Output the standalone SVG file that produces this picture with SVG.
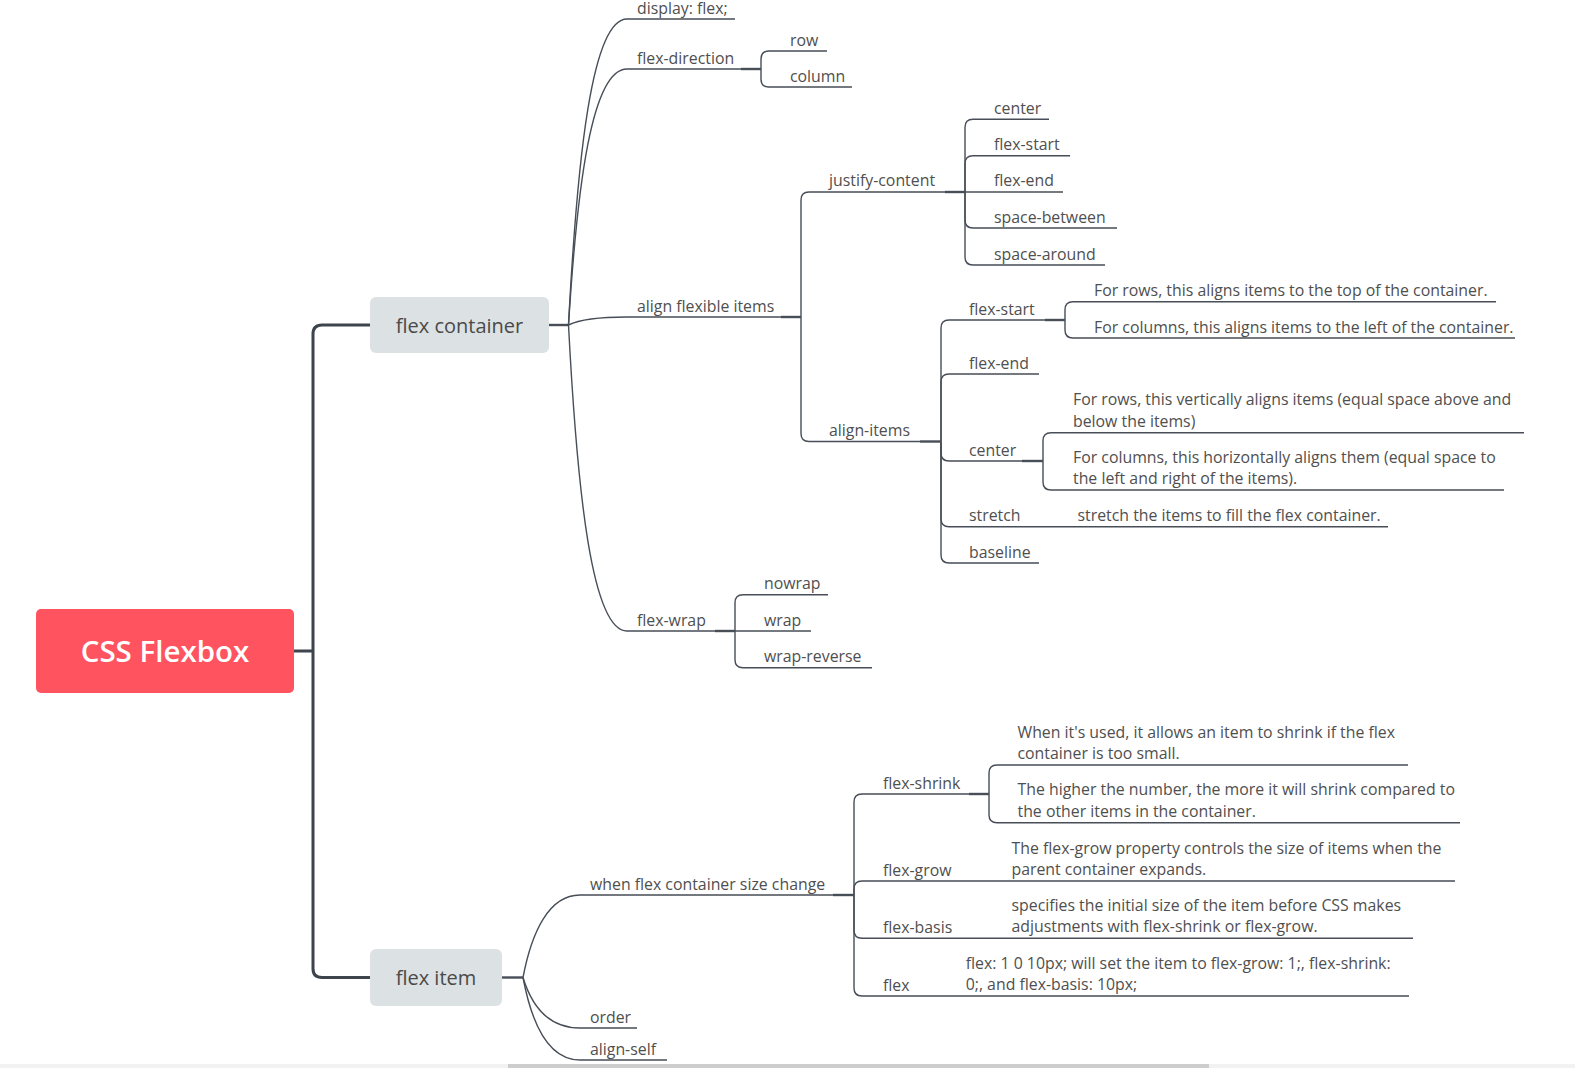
<svg xmlns="http://www.w3.org/2000/svg" width="1575" height="1068" viewBox="0 0 1575 1068">
  <style>
    .lbl { font-family: "Open Sans", "Liberation Sans", sans-serif; font-size: 15.85px; fill: #4f4f4f; }
    .topic { font-family: "Open Sans", "Liberation Sans", sans-serif; font-size: 20px; fill: #4a4a4a; text-anchor: middle; }
    .root-t { font-family: "Open Sans", "Liberation Sans", sans-serif; font-size: 29.5px; font-weight: 600; fill: #ffffff; text-anchor: middle; }
    .ln { fill: none; stroke: #474e57; stroke-width: 1.4; }
    .lk { fill: none; stroke: #474e57; stroke-width: 2.4; }
    .trunk { fill: none; stroke: #3d444c; stroke-width: 3; }
  </style>
  <rect width="1575" height="1068" fill="#ffffff"/>

  <!-- connectors -->
  <g id="connectors">
    <!-- root trunk -->
    <path class="trunk" d="M294 651 H313 M370 325 H322 Q313 325 313 334 V968.5 Q313 977.5 322 977.5 H370"/>

    <!-- flex container fan -->
    <path class="lk" d="M549 325 H568.5"/>
    <path class="ln" d="M568.5 325 C577.3 156.7 591.9 19 627 19 H735"/>
    <path class="ln" d="M568.5 325 C577.3 184.2 591.9 69 627 69 H741"/>
    <path class="lk" d="M741 69 H761"/>
    <path class="ln" d="M568.5 325 C577.3 320.6 591.9 317 627 317 H781"/>
    <path class="lk" d="M781 317 H801"/>
    <path class="ln" d="M568.5 325 C577.3 493.3 591.9 631 627 631 H715"/>
    <path class="lk" d="M715 631 H735"/>

    <!-- flex-direction values -->
    <path class="ln" d="M761 69 V59 Q761 51 769 51 H827"/>
    <path class="ln" d="M761 69 V79 Q761 87 769 87 H852"/>

    <!-- align flexible items bracket -->
    <path class="ln" d="M801 317 V200 Q801 192 809 192 H945"/>
    <path class="lk" d="M945 192 H965"/>
    <path class="ln" d="M801 317 V433.5 Q801 441.5 809 441.5 H920"/>
    <path class="lk" d="M920 441.5 H941"/>

    <!-- justify-content values -->
    <path class="ln" d="M965 192 V127.3 Q965 119.3 973 119.3 H1049"/>
    <path class="ln" d="M965 192 V163.7 Q965 155.7 973 155.7 H1070"/>
    <path class="ln" d="M965 192 H1063"/>
    <path class="ln" d="M965 192 V220 Q965 228 973 228 H1117"/>
    <path class="ln" d="M965 192 V257 Q965 265 973 265 H1105"/>

    <!-- align-items values -->
    <path class="ln" d="M941 441.5 V328 Q941 320 949 320 H1045"/>
    <path class="lk" d="M1045 320 H1065"/>
    <path class="ln" d="M941 441.5 V382 Q941 374 949 374 H1039"/>
    <path class="ln" d="M941 441.5 V453 Q941 461 949 461 H1022"/>
    <path class="lk" d="M1022 461 H1043"/>
    <path class="ln" d="M941 441.5 V518.7 Q941 526.7 949 526.7 H1388"/>
    <path class="ln" d="M941 441.5 V555 Q941 563 949 563 H1039"/>

    <!-- align-items: flex-start details -->
    <path class="ln" d="M1065 320 V309.7 Q1065 301.7 1073 301.7 H1496"/>
    <path class="ln" d="M1065 320 V330 Q1065 338 1073 338 H1515"/>

    <!-- align-items: center details -->
    <path class="ln" d="M1043 461 V440.7 Q1043 432.7 1051 432.7 H1524"/>
    <path class="ln" d="M1043 461 V482 Q1043 490 1051 490 H1504"/>

    <!-- flex-wrap values -->
    <path class="ln" d="M735 631 V602.7 Q735 594.7 743 594.7 H828"/>
    <path class="ln" d="M735 631 H811"/>
    <path class="ln" d="M735 631 V659.7 Q735 667.7 743 667.7 H872"/>

    <!-- flex item fan -->
    <path class="lk" d="M502 977.5 H523"/>
    <path class="ln" d="M523 977.5 C531.6 932.4 548.7 895 580 895 H833"/>
    <path class="lk" d="M833 895 H854"/>
    <path class="ln" d="M523 977.5 C531.6 1005.6 548.7 1028 580 1028 H637"/>
    <path class="ln" d="M523 977.5 C531.6 1023.2 548.7 1060 580 1060 H667"/>

    <!-- size change properties -->
    <path class="ln" d="M854 895 V802 Q854 794 862 794 H969"/>
    <path class="lk" d="M969 794 H989"/>
    <path class="ln" d="M854 895 V889 Q854 881 862 881 H1455"/>
    <path class="ln" d="M854 895 V930.3 Q854 938.3 862 938.3 H1413"/>
    <path class="ln" d="M854 895 V988 Q854 996 862 996 H1409"/>

    <!-- flex-shrink details -->
    <path class="ln" d="M989 794 V773 Q989 765 997 765 H1408"/>
    <path class="ln" d="M989 794 V814.7 Q989 822.7 997 822.7 H1460"/>
  </g>

  <!-- central topic -->
  <g id="node-root">
    <rect x="36" y="609" width="258" height="84" rx="5" fill="#ff535f"/>
    <text class="root-t" x="165" y="662">CSS Flexbox</text>
  </g>

  <!-- main topics -->
  <g id="node-flex-container">
    <rect x="370" y="297" width="179" height="56" rx="6" fill="#dce1e3"/>
    <text class="topic" x="459.5" y="332.5">flex container</text>
  </g>
  <g id="node-flex-item">
    <rect x="370" y="949" width="132" height="57" rx="6" fill="#dce1e3"/>
    <text class="topic" x="436" y="985">flex item</text>
  </g>

  <!-- flex container branch -->
  <g id="node-display"><text class="lbl" x="637" y="14">display: flex;</text></g>
  <g id="node-flex-direction"><text class="lbl" x="637" y="63.5">flex-direction</text></g>
  <g id="node-row"><text class="lbl" x="790" y="45.5">row</text></g>
  <g id="node-column"><text class="lbl" x="790" y="81.5">column</text></g>

  <g id="node-align-flexible-items"><text class="lbl" x="637" y="311.5">align flexible items</text></g>
  <g id="node-justify-content"><text class="lbl" x="829" y="186.2">justify-content</text></g>
  <g id="node-jc-center"><text class="lbl" x="994" y="113.8">center</text></g>
  <g id="node-jc-flex-start"><text class="lbl" x="994" y="150.2">flex-start</text></g>
  <g id="node-jc-flex-end"><text class="lbl" x="994" y="186.2">flex-end</text></g>
  <g id="node-jc-space-between"><text class="lbl" x="994" y="222.5">space-between</text></g>
  <g id="node-jc-space-around"><text class="lbl" x="994" y="259.5">space-around</text></g>

  <g id="node-align-items"><text class="lbl" x="829" y="436">align-items</text></g>
  <g id="node-ai-flex-start"><text class="lbl" x="969" y="314.5">flex-start</text></g>
  <g id="node-ai-flex-start-rows"><text class="lbl" x="1094" y="296">For rows, this aligns items to the top of the container.</text></g>
  <g id="node-ai-flex-start-cols"><text class="lbl" x="1094" y="332.5">For columns, this aligns items to the left of the container.</text></g>
  <g id="node-ai-flex-end"><text class="lbl" x="969" y="368.5">flex-end</text></g>
  <g id="node-ai-center"><text class="lbl" x="969" y="455.5">center</text></g>
  <g id="node-ai-center-rows">
    <text class="lbl" x="1073" y="405.2">For rows, this vertically aligns items (equal space above and</text>
    <text class="lbl" x="1073" y="426.7">below the items)</text>
  </g>
  <g id="node-ai-center-cols">
    <text class="lbl" x="1073" y="462.5">For columns, this horizontally aligns them (equal space to</text>
    <text class="lbl" x="1073" y="484">the left and right of the items).</text>
  </g>
  <g id="node-ai-stretch"><text class="lbl" x="969" y="521">stretch</text></g>
  <g id="node-ai-stretch-desc"><text class="lbl" x="1077.5" y="521">stretch the items to fill the flex container.</text></g>
  <g id="node-ai-baseline"><text class="lbl" x="969" y="557.5">baseline</text></g>

  <g id="node-flex-wrap"><text class="lbl" x="637" y="625.5">flex-wrap</text></g>
  <g id="node-nowrap"><text class="lbl" x="764" y="589.2">nowrap</text></g>
  <g id="node-wrap"><text class="lbl" x="764" y="625.5">wrap</text></g>
  <g id="node-wrap-reverse"><text class="lbl" x="764" y="662.2">wrap-reverse</text></g>

  <!-- flex item branch -->
  <g id="node-size-change"><text class="lbl" x="590" y="889.5">when flex container size change</text></g>
  <g id="node-flex-shrink"><text class="lbl" x="883" y="788.5">flex-shrink</text></g>
  <g id="node-shrink-used">
    <text class="lbl" x="1017.5" y="737.5">When it's used, it allows an item to shrink if the flex</text>
    <text class="lbl" x="1017.5" y="759">container is too small.</text>
  </g>
  <g id="node-shrink-number">
    <text class="lbl" x="1017.5" y="795.2">The higher the number, the more it will shrink compared to</text>
    <text class="lbl" x="1017.5" y="816.7">the other items in the container.</text>
  </g>
  <g id="node-flex-grow"><text class="lbl" x="883" y="875.5">flex-grow</text></g>
  <g id="node-grow-desc">
    <text class="lbl" x="1011.5" y="853.5">The flex-grow property controls the size of items when the</text>
    <text class="lbl" x="1011.5" y="875">parent container expands.</text>
  </g>
  <g id="node-flex-basis"><text class="lbl" x="883" y="932.8">flex-basis</text></g>
  <g id="node-basis-desc">
    <text class="lbl" x="1011.5" y="910.8">specifies the initial size of the item before CSS makes</text>
    <text class="lbl" x="1011.5" y="932.3">adjustments with flex-shrink or flex-grow.</text>
  </g>
  <g id="node-flex"><text class="lbl" x="883" y="990.5">flex</text></g>
  <g id="node-flex-desc">
    <text class="lbl" x="965.7" y="968.5">flex: 1 0 10px; will set the item to flex-grow: 1;, flex-shrink:</text>
    <text class="lbl" x="965.7" y="990">0;, and flex-basis: 10px;</text>
  </g>
  <g id="node-order"><text class="lbl" x="590" y="1022.5">order</text></g>
  <g id="node-align-self"><text class="lbl" x="590" y="1054.5">align-self</text></g>

  <!-- horizontal scrollbar -->
  <rect x="0" y="1064" width="1575" height="4" fill="#f2f2f2"/>
  <rect x="508" y="1064" width="701" height="4" fill="#cdcdcd"/>
</svg>
